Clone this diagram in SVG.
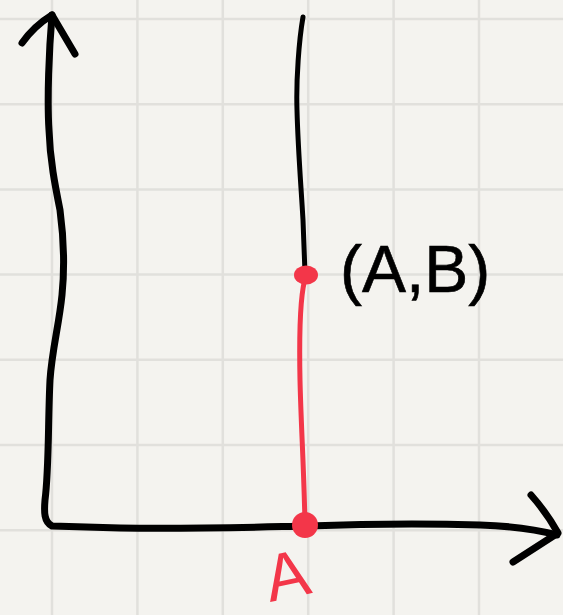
<svg xmlns="http://www.w3.org/2000/svg" width="563" height="615" viewBox="0 0 563 615">
  <style>
    .grid line { stroke: #e1e0dc; stroke-width: 2.5; }
    .ink { fill: none; stroke: #000; stroke-linecap: round; stroke-linejoin: round; }
    .red { fill: none; stroke: #f33649; stroke-linecap: round; stroke-linejoin: round; }
    .dot { fill: #f33649; }
    .lbl { font-family: "Liberation Sans", Arial, sans-serif; font-size: 66px; }
  </style>
  <rect width="563" height="615" fill="#f4f3ef"/>
  <g id="grid" class="grid">
    <line x1="52" y1="0" x2="52" y2="615"/>
    <line x1="137.4" y1="0" x2="137.4" y2="615"/>
    <line x1="222.8" y1="0" x2="222.8" y2="615"/>
    <line x1="308.2" y1="0" x2="308.2" y2="615"/>
    <line x1="393.6" y1="0" x2="393.6" y2="615"/>
    <line x1="479" y1="0" x2="479" y2="615"/>
    <line x1="0" y1="19" x2="563" y2="19"/>
    <line x1="0" y1="104.2" x2="563" y2="104.2"/>
    <line x1="0" y1="189.4" x2="563" y2="189.4"/>
    <line x1="0" y1="274.6" x2="563" y2="274.6"/>
    <line x1="0" y1="359.8" x2="563" y2="359.8"/>
    <line x1="0" y1="445" x2="563" y2="445"/>
    <line x1="0" y1="530.2" x2="563" y2="530.2"/>
  </g>
  <g id="axes">
    <path class="ink" stroke-width="7" d="M52,15 C49,50 47,100 49,130 C50,160 55,185 60,210 C64,240 65,265 62,295 C59,325 52,350 50,380 C48,420 49,470 45,500 C44,512 44,522 52,526 L120,528 C200,529 260,527 307,526 C360,524 420,523 480,525 C510,526 535,529 557,535"/>
    <path class="ink" stroke-width="7" d="M22,43 Q34,26 52,15 L75,54"/>
    <path class="ink" stroke-width="7" d="M531,495 Q547,513 558,533 L513,562"/>
  </g>
  <g id="connectors">
    <path class="ink" stroke-width="5" d="M303,17 C299,40 296,80 297,110 C298,150 301,185 303,220 L305,273"/>
    <path class="red" stroke-width="5" d="M306,276 C300,292 299,330 300,380 C301,425 304,470 305,525"/>
  </g>
  <g id="point-AB">
    <ellipse class="dot" cx="306" cy="275" rx="12" ry="9.5"/>
    <text class="lbl" x="340" y="292" stroke="#000" stroke-width="0.6">(A,B)</text>
  </g>
  <g id="point-A">
    <circle class="dot" cx="305" cy="525" r="13"/>
    <text class="lbl" x="270" y="602" fill="#f33649" font-size="56" rotate="-12">A</text>
  </g>
</svg>
